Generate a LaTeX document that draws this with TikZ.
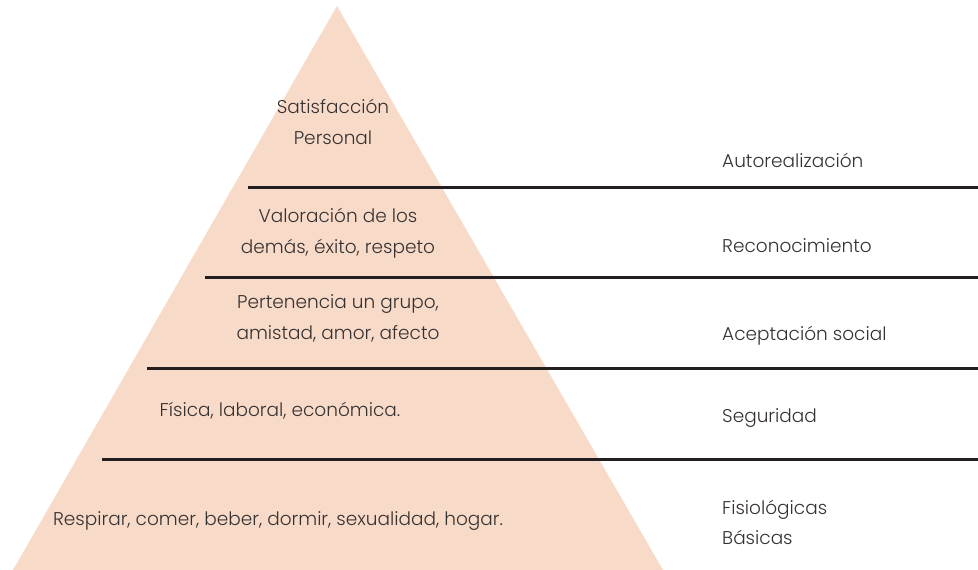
\documentclass[tikz,border=0pt]{standalone}
\usepackage{fontspec}
\setmainfont{Poppins}[UprightFont=* Light]
\definecolor{peach}{RGB}{248,218,200}
\definecolor{ink}{RGB}{35,31,32}
\definecolor{txt}{RGB}{55,50,50}
\begin{document}
\begin{tikzpicture}[x=1pt,y=-1pt,
  lvl/.style={draw=ink,line width=3pt},
  lbl/.style={text=txt,font=\fontsize{18.5}{31}\selectfont,align=center,inner sep=0pt},
  rlbl/.style={text=txt,font=\fontsize{18.5}{30}\selectfont,align=left,anchor=west,inner sep=0pt}]
\useasboundingbox (0,0) rectangle (978,570);
\fill[peach] (337,6) -- (663,570) -- (13,570) -- cycle;
\draw[lvl] (248,187) -- (978,187);
\draw[lvl] (205,277) -- (978,277);
\draw[lvl] (147,368) -- (978,368);
\draw[lvl] (102,459) -- (978,459);
\node[lbl] (t1) at (333,122) {Satisfacción\\Personal};
\node[lbl] (t2) at (338,233) {Valoración de los\\demás, éxito, respeto};
\node[lbl] (t3) at (338,318) {Pertenencia un grupo,\\amistad, amor, afecto};
\node[lbl] (t4) at (280,411) {Física, laboral, económica.};
\node[lbl] (t5) at (278,521) {Respirar, comer, beber, dormir, sexualidad, hogar.};
\node[rlbl] (r1) at (722,160) {Autorealización};
\node[rlbl] (r2) at (722,246) {Reconocimiento};
\node[rlbl] (r3) at (722,336) {Aceptación social};
\node[rlbl] (r4) at (722,418) {Seguridad};
\node[rlbl] (r5) at (722,522) {Fisiológicas\\Básicas};
\end{tikzpicture}
\end{document}
